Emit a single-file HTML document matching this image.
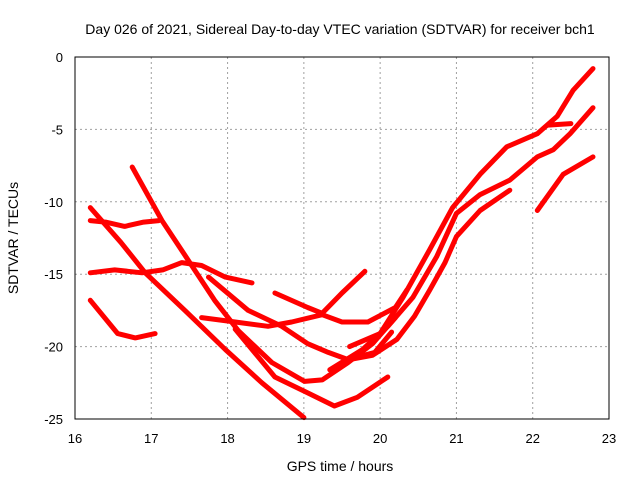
<!DOCTYPE html>
<html><head><meta charset="utf-8"><style>
body{margin:0;background:#fff;}
svg{display:block;font-family:"Liberation Sans",sans-serif;}
</style></head><body>
<svg id="chart" width="640" height="480" viewBox="0 0 640 480">
<rect x="0" y="0" width="640" height="480" fill="#fff"/>
<g id="grid"></g>
<g id="series"></g>
<rect x="75" y="57" width="534" height="362" fill="none" stroke="#000" stroke-width="1"/>
<g id="ticks" font-size="13" fill="#000"></g>
<text x="340" y="34" font-size="14" text-anchor="middle">Day 026 of 2021, Sidereal Day-to-day VTEC variation (SDTVAR) for receiver bch1</text>
<text x="340" y="471" font-size="14" text-anchor="middle">GPS time / hours</text>
<text x="18" y="238" font-size="14" text-anchor="middle" transform="rotate(-90 18 238)">SDTVAR / TECUs</text>
</svg>
<script>
const xTicks=[16,17,18,19,20,21,22,23];
const yTicks=[0,-5,-10,-15,-20,-25];
const s1=[[16.2,-10.4],[16.6,-12.8],[16.92,-14.9],[17.44,-17.5],[17.97,-20.2],[18.45,-22.5],[19.0,-24.9]];
const s2=[[16.75,-7.6],[17.14,-11.3],[17.48,-14],[17.83,-16.8],[18.14,-18.9],[18.58,-21.1],[19.01,-22.4],[19.24,-22.3],[19.58,-21.1],[19.9,-19.8],[20.2,-18]];
const s3=[[16.2,-11.3],[16.4,-11.4],[16.65,-11.7],[16.9,-11.4],[17.1,-11.3]];
const s4=[[16.2,-14.9],[16.52,-14.7],[16.88,-14.9],[17.15,-14.7],[17.4,-14.2],[17.66,-14.4],[17.97,-15.2],[18.32,-15.6]];
const s5=[[16.2,-16.8],[16.56,-19.1],[16.79,-19.4],[17.05,-19.1]];
const s6=[[17.75,-15.2],[18.27,-17.5],[18.71,-18.6],[19.05,-19.8],[19.32,-20.4],[19.58,-20.9],[19.93,-20.4],[20.15,-19]];
const s7=[[17.66,-18],[18.1,-18.3],[18.53,-18.6],[18.84,-18.3],[19.24,-17.8],[19.5,-18.3],[19.84,-18.3],[20.2,-17.3],[20.35,-16.1]];
const s8=[[18.62,-16.3],[19.05,-17.3],[19.24,-17.7],[19.5,-16.3],[19.8,-14.8]];
const s9=[[18.1,-18.8],[18.62,-22.1],[19.05,-23.2],[19.4,-24.1],[19.7,-23.5],[20.1,-22.1]];
const s10=[[19.6,-20],[20.0,-19.1],[20.3,-16.6],[20.65,-13.3],[20.95,-10.4],[21.31,-8.1],[21.66,-6.2],[22.06,-5.3],[22.32,-4.1],[22.53,-2.3],[22.79,-0.8]];
const s11=[[19.34,-21.6],[19.77,-20.2],[20.1,-18.6],[20.43,-16.6],[20.74,-13.8],[21.0,-10.8],[21.31,-9.5],[21.7,-8.5],[22.06,-6.9],[22.27,-6.4],[22.49,-5.3],[22.79,-3.5]];
const s12=[[22.2,-4.7],[22.5,-4.6]];
const s13=[[19.6,-20.9],[19.9,-20.6],[20.22,-19.5],[20.45,-17.9],[20.65,-16.1],[20.85,-14.2],[21.0,-12.4],[21.31,-10.6],[21.7,-9.2]];
const s14=[[22.06,-10.6],[22.4,-8.1],[22.79,-6.9]];
const allSeries=[s1,s2,s3,s4,s5,s6,s7,s8,s9,s10,s11,s12,s13,s14];
const NS='http://www.w3.org/2000/svg';
function xs(h){return 75+(h-16)*(534/7);}
function ys(v){return 57+(-v)*(362/25);}
const grid=document.getElementById('grid'),ticks=document.getElementById('ticks'),ser=document.getElementById('series');
xTicks.forEach(t=>{
  const x=xs(t);
  if(t>16&&t<23){const l=document.createElementNS(NS,'line');
  
  
  l.setAttribute('x1',x);l.setAttribute('x2',x);l.setAttribute('y1',57);l.setAttribute('y2',419);
  l.setAttribute('stroke','#a0a0a0');l.setAttribute('stroke-dasharray','2,3');grid.appendChild(l);}
  const tx=document.createElementNS(NS,'text');
  
  
  tx.setAttribute('x',x);tx.setAttribute('y',443);tx.setAttribute('text-anchor','middle');tx.textContent=t;ticks.appendChild(tx);
});
yTicks.forEach(t=>{
  const y=ys(t);
  if(t<0&&t>-25){const l=document.createElementNS(NS,'line');
  
  
  l.setAttribute('x1',75);l.setAttribute('x2',609);l.setAttribute('y1',y);l.setAttribute('y2',y);
  l.setAttribute('stroke','#a0a0a0');l.setAttribute('stroke-dasharray','2,3');grid.appendChild(l);}
  const tx=document.createElementNS(NS,'text');
  
  
  tx.setAttribute('x',63);tx.setAttribute('y',y+5);tx.setAttribute('text-anchor','end');tx.textContent=t;ticks.appendChild(tx);
});
allSeries.forEach((s,i)=>{
  const p=document.createElementNS(NS,'polyline');
  
  
  p.setAttribute('points',s.map(d=>xs(d[0]).toFixed(1)+','+ys(d[1]).toFixed(1)).join(' '));
  p.setAttribute('fill','none');p.setAttribute('stroke','#ff0000');p.setAttribute('stroke-width','5');
  p.setAttribute('stroke-linejoin','round');p.setAttribute('stroke-linecap','round');
  ser.appendChild(p);
});
</script>
</body></html>
